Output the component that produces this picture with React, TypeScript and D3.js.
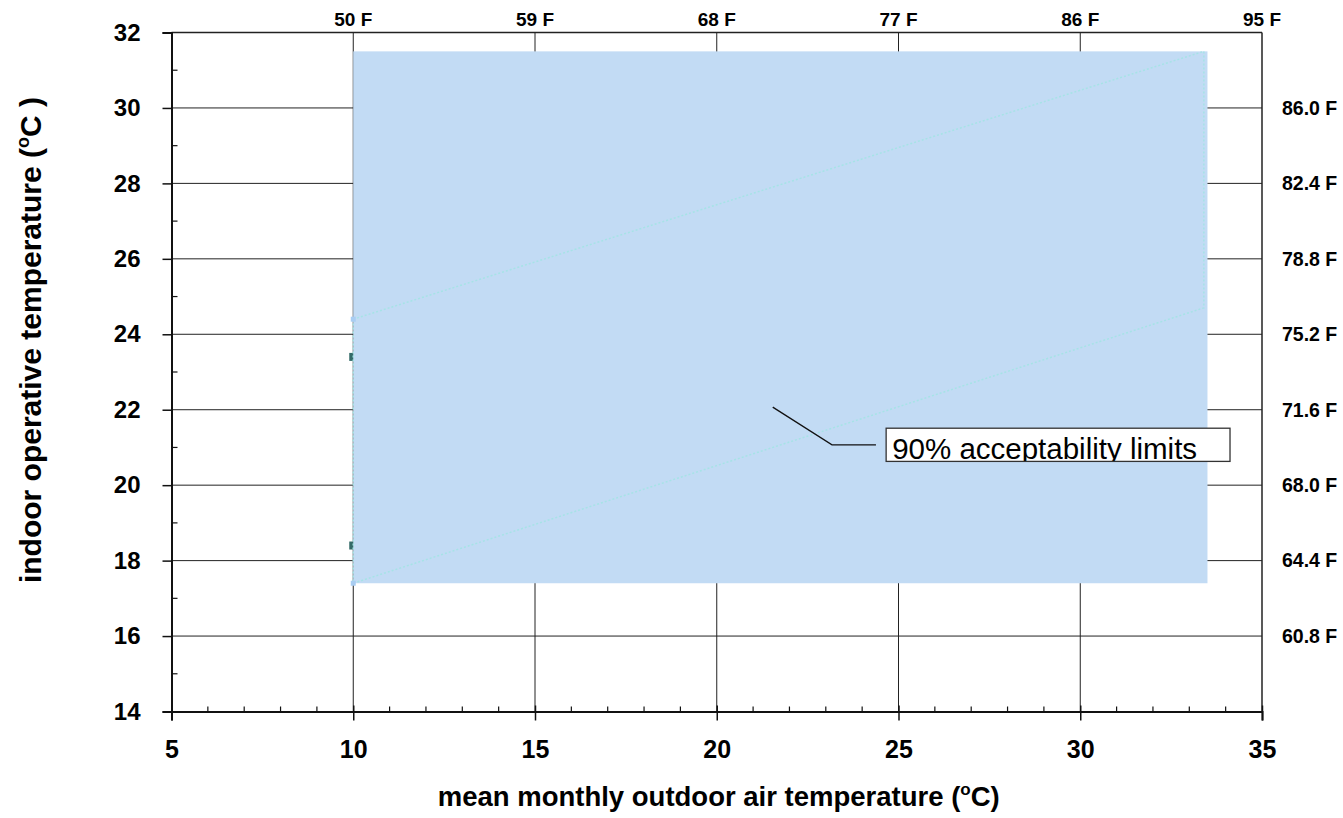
import { useEffect, useRef } from "react";
import * as d3 from "d3";

// axis ticks
const xTicks = [5, 10, 15, 20, 25, 30, 35];
const yTicks = [14, 16, 18, 20, 22, 24, 26, 28, 30, 32];
const xGrid = [10, 15, 20, 25, 30];
const topTickPos = [10, 15, 20, 25, 30, 35];
const topTickLabels = ["50 F", "59 F", "68 F", "77 F", "86 F", "95 F"];
const rightTickPos = [30, 28, 26, 24, 22, 20, 18, 16];
const rightTickLabels = ["86.0 F", "82.4 F", "78.8 F", "75.2 F", "71.6 F", "68.0 F", "64.4 F", "60.8 F"];

// comfort zone (shaded) and 90% acceptability limits
const zoneX = [10, 33.5];
const zoneY = [17.4, 31.5];
const upper90: [number, number][] = [[10, 24.4], [33.4, 31.5]];
const lower90: [number, number][] = [[10, 17.4], [33.4, 24.7]];
// 80% limits, only the points at 10 C show
const limits80: [number, number][] = [[10, 23.4], [10, 18.4]];

// annotation: leader line + boxed label
const leader: [number, number][] = [[21.54, 22.07], [23.17, 21.07], [24.38, 21.07]];
const labelBoxX = [24.66, 34.12];
const labelBoxY = [21.51, 20.63];
const labelText = "90% acceptability limits";

export default function App() {
  const svgRef = useRef<SVGSVGElement>(null);

  useEffect(() => {
    const el = svgRef.current;
    if (!el) return;
    const W = 1343, H = 818;
    d3.select(el).selectAll("*").remove();
    const svg = d3.select(el).attr("width", W).attr("height", H);

    const x = d3.scaleLinear().domain([5, 35]).range([171.5, 1262]);
    const y = d3.scaleLinear().domain([14, 32]).range([711.5, 32.5]);
    const font = "'Liberation Sans', Arial, sans-serif";

    // Grid
    svg.append("g").selectAll("line").data(yTicks.slice(1, -1)).join("line")
      .attr("x1", x(5)).attr("x2", x(35))
      .attr("y1", d => y(d)).attr("y2", d => y(d))
      .attr("stroke", "#222").attr("stroke-width", 1);
    svg.append("g").selectAll("line").data(xGrid).join("line")
      .attr("x1", d => x(d)).attr("x2", d => x(d))
      .attr("y1", y(32)).attr("y2", y(14))
      .attr("stroke", "#222").attr("stroke-width", 1);

    // 80% points (partly hidden behind the zone)
    svg.append("g").selectAll("rect").data(limits80).join("rect")
      .attr("x", d => x(d[0]) - 4).attr("y", d => y(d[1]) - 4)
      .attr("width", 8).attr("height", 8)
      .attr("fill", "#336b68");

    // shaded zone
    svg.append("rect")
      .attr("x", x(zoneX[0])).attr("y", y(zoneY[1]))
      .attr("width", x(zoneX[1]) - x(zoneX[0]))
      .attr("height", y(zoneY[0]) - y(zoneY[1]))
      .attr("fill", "#c2dbf4");

    // 90% limit outline, dotted
    const poly = [...upper90, ...lower90.slice().reverse(), upper90[0]];
    svg.append("path")
      .datum(poly)
      .attr("d", d3.line<[number, number]>().x(d => x(d[0])).y(d => y(d[1])))
      .attr("fill", "none")
      .attr("stroke", "#a6e3e6")
      .attr("stroke-width", 1.5)
      .attr("stroke-dasharray", "2,2");
    svg.append("g").selectAll("rect").data([upper90[0], lower90[0]]).join("rect")
      .attr("x", d => x(d[0]) - 2.5).attr("y", d => y(d[1]) - 2.5)
      .attr("width", 5).attr("height", 5)
      .attr("fill", "#a9cdf2");

    // frame
    svg.append("line").attr("x1", x(5)).attr("x2", x(35)).attr("y1", y(32)).attr("y2", y(32))
      .attr("stroke", "#222").attr("stroke-width", 1.5);
    svg.append("line").attr("x1", x(35)).attr("x2", x(35)).attr("y1", y(32)).attr("y2", y(14))
      .attr("stroke", "#222").attr("stroke-width", 1.5);

    // left axis
    const left = svg.append("g").attr("transform", `translate(${x(5)},0)`);
    left.call(d3.axisLeft(y).tickValues(yTicks).tickSize(9).tickPadding(22).tickFormat(d3.format("d")));
    left.select(".domain").attr("stroke", "#111").attr("stroke-width", 2);
    left.selectAll(".tick line").attr("stroke", "#111").attr("stroke-width", 1.5);
    left.selectAll("text").attr("font-family", font).attr("font-weight", "bold")
      .attr("font-size", 24).attr("fill", "#000");
    left.append("g").selectAll("line").data(d3.range(15, 32, 2)).join("line")
      .attr("x1", 0).attr("x2", 6).attr("y1", d => y(d)).attr("y2", d => y(d))
      .attr("stroke", "#111").attr("stroke-width", 1.2);

    // bottom axis
    const bottom = svg.append("g").attr("transform", `translate(0,${y(14)})`);
    bottom.call(d3.axisBottom(x).tickValues(xTicks).tickSize(9).tickPadding(20).tickFormat(d3.format("d")));
    bottom.select(".domain").attr("stroke", "#111").attr("stroke-width", 2);
    bottom.selectAll(".tick line").attr("stroke", "#111").attr("stroke-width", 1.5).attr("y1", -6);
    bottom.selectAll("text").attr("font-family", font).attr("font-weight", "bold")
      .attr("font-size", 25).attr("fill", "#000");
    bottom.append("g").selectAll("line").data(d3.range(6, 35).filter(v => v % 5 !== 0)).join("line")
      .attr("x1", d => x(d)).attr("x2", d => x(d)).attr("y1", 0).attr("y2", -5)
      .attr("stroke", "#111").attr("stroke-width", 1.2);

    // top Fahrenheit labels
    svg.append("g").selectAll("text").data(topTickPos).join("text")
      .attr("x", d => x(d)).attr("y", 26)
      .attr("text-anchor", "middle")
      .attr("font-family", font).attr("font-weight", "bold").attr("font-size", 19)
      .text((d, i) => topTickLabels[i]);

    // right Fahrenheit labels
    svg.append("g").selectAll("text").data(rightTickPos).join("text")
      .attr("x", 1282).attr("y", d => y(d))
      .attr("dy", "0.35em")
      .attr("font-family", font).attr("font-weight", "bold").attr("font-size", 19.5)
      .text((d, i) => rightTickLabels[i]);

    // axis titles
    const xt = svg.append("text")
      .attr("x", x(20) + 2).attr("y", 806)
      .attr("text-anchor", "middle")
      .attr("font-family", font).attr("font-weight", "bold").attr("font-size", 27.5);
    xt.append("tspan").text("mean monthly outdoor air temperature (");
    xt.append("tspan").attr("dy", -11).attr("font-size", 17).text("o");
    xt.append("tspan").attr("dy", 11).text("C)");

    const yt = svg.append("text")
      .attr("transform", "translate(41,340) rotate(-90)")
      .attr("text-anchor", "middle")
      .attr("font-family", font).attr("font-weight", "bold").attr("font-size", 30);
    yt.append("tspan").text("indoor operative temperature (");
    yt.append("tspan").attr("dy", -12).attr("font-size", 18).text("o");
    yt.append("tspan").attr("dy", 12).text("C )");

    // annotation
    svg.append("path")
      .datum(leader)
      .attr("d", d3.line<[number, number]>().x(d => x(d[0])).y(d => y(d[1])))
      .attr("fill", "none").attr("stroke", "#111").attr("stroke-width", 1.3);

    const bx = x(labelBoxX[0]), by = y(labelBoxY[0]);
    const bw = x(labelBoxX[1]) - bx, bh = y(labelBoxY[1]) - by;
    svg.append("defs").append("clipPath").attr("id", "labelClip")
      .append("rect").attr("x", bx).attr("y", by).attr("width", bw).attr("height", bh);
    svg.append("rect")
      .attr("x", bx).attr("y", by).attr("width", bw).attr("height", bh)
      .attr("fill", "#fff");
    svg.append("text")
      .attr("clip-path", "url(#labelClip)")
      .attr("x", bx + 6).attr("y", by + 31)
      .attr("font-family", font).attr("font-size", 29.5).attr("fill", "#000")
      .text(labelText);
    svg.append("rect")
      .attr("x", bx).attr("y", by).attr("width", bw).attr("height", bh)
      .attr("fill", "none").attr("stroke", "#333").attr("stroke-width", 1.3);
  }, []);

  return (
    <div style={{ position: "absolute", left: 0, top: 0, width: 1343, height: 818, background: "#fff" }}>
      <svg ref={svgRef} style={{ display: "block" }} />
    </div>
  );
}
